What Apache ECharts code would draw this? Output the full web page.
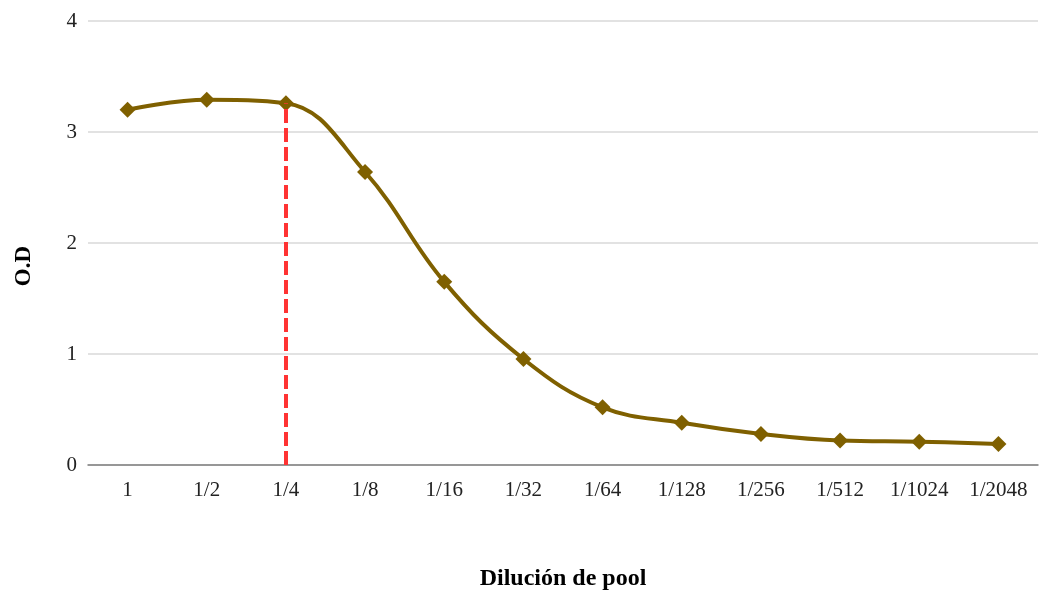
<!DOCTYPE html>
<html><head><meta charset="utf-8">
<script src="https://cdn.jsdelivr.net/npm/echarts@6/dist/echarts.min.js"></script>
<style>html,body{margin:0;padding:0;background:#fff}#c{width:1041px;height:596px}</style>
</head><body><div id="c"></div>
<script>
const categories = ['1','1/2','1/4','1/8','1/16','1/32','1/64','1/128','1/256','1/512','1/1024','1/2048'];
const odValues = [3.20, 3.29, 3.26, 2.64, 1.65, 0.955, 0.52, 0.38, 0.28, 0.22, 0.21, 0.19];
const cutoffCategory = '1/4';
const cutoffValue = 3.26;
const yTicks = [0, 1, 2, 3, 4];

const font = '"Liberation Serif", "Times New Roman", serif';
const chart = echarts.init(document.getElementById('c'));
chart.setOption({
  animation: false,
  grid: { left: 88, right: 3, top: 21, bottom: 131, containLabel: false },
  graphic: [{
    type: 'text', x: 24, y: 266, rotation: Math.PI / 2,
    style: { text: 'O.D', font: 'bold 23px "Liberation Serif", serif', fill: '#000', align: 'center', verticalAlign: 'middle' }
  }],
  xAxis: {
    type: 'category', data: categories, boundaryGap: true,
    name: 'Dilución de pool', nameLocation: 'middle', nameGap: 102,
    nameTextStyle: { fontFamily: font, fontWeight: 'bold', fontSize: 24, color: '#000' },
    axisLine: { lineStyle: { color: '#7f7f7f', width: 1.5 } },
    axisTick: { show: false },
    axisLabel: { fontFamily: font, fontSize: 21, color: '#222', margin: 15 },
    splitLine: { show: false }
  },
  yAxis: {
    type: 'value', min: yTicks[0], max: yTicks[yTicks.length-1], interval: 1,
    axisLine: { show: false }, axisTick: { show: false },
    axisLabel: { fontFamily: font, fontSize: 21, color: '#222', margin: 11 },
    splitLine: { lineStyle: { color: '#d9d9d9', width: 1.5 } }
  },
  series: [
    {
      type: 'line', data: odValues, smooth: 0.4, z: 3,
      symbol: 'diamond', symbolSize: 16,
      lineStyle: { color: '#7f6000', width: 4 },
      itemStyle: { color: '#7f6000' },
      markLine: {
        silent: true, symbol: ['none','none'], label: { show: false },
        lineStyle: { color: '#ff3333', width: 4, type: [14, 5] },
        data: [[ { coord: [cutoffCategory, 0] }, { coord: [cutoffCategory, cutoffValue] } ]]
      }
    }
  ]
});
</script></body></html>
